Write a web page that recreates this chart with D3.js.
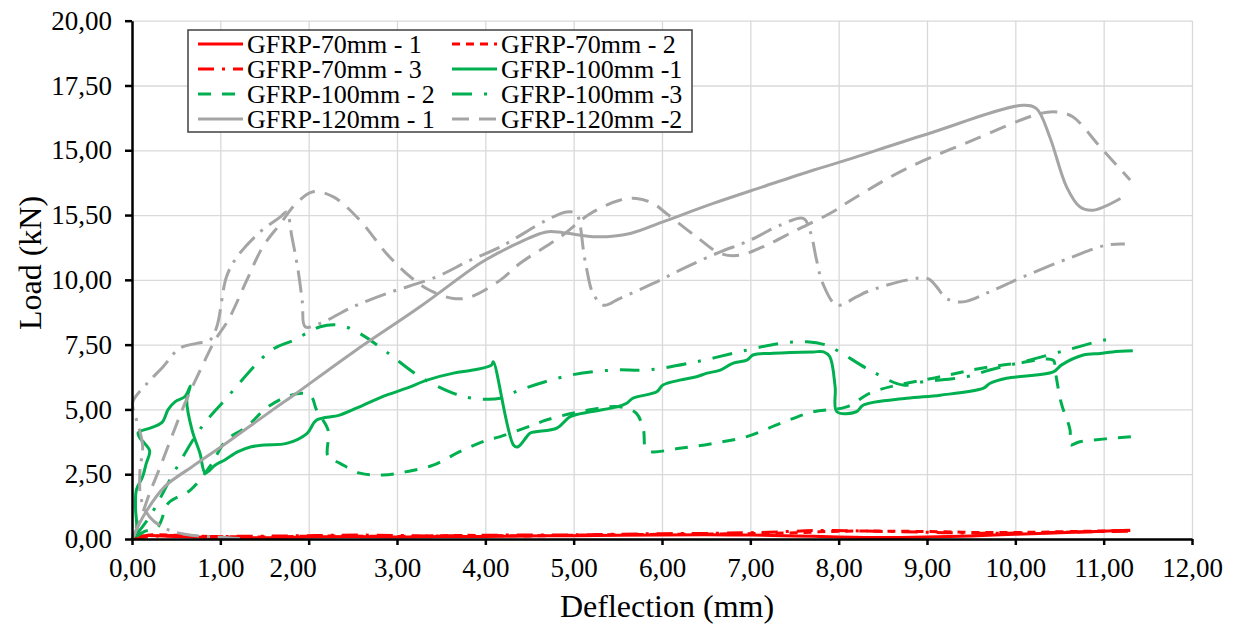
<!DOCTYPE html>
<html>
<head>
<meta charset="utf-8">
<script src="https://cdn.jsdelivr.net/npm/d3@7"></script>
<style>
    body { margin: 0; background: #fff; }
    svg text { font-family: "Liberation Serif", "Times New Roman", serif; fill: #000; }
    .grid line { stroke: #d9d9d9; stroke-width: 1.3; }
    .grid path { display: none; }
    .axis path, .axis line { stroke: #000; stroke-width: 2.5; }
</style>
</head>
<body>
<svg id="chart" width="1236" height="629"></svg>
<script>
// Axis ticks
const xTicks = [0, 1, 2, 3, 4, 5, 6, 7, 8, 9, 10, 11, 12];
const xTickLabels = ['0,00', '1,00', '2,00', '3,00', '4,00', '5,00', '6,00', '7,00', '8,00', '9,00', '10,00', '11,00', '12,00'];
const yTicks = [0, 2.5, 5, 7.5, 10, 12.5, 15, 17.5, 20];
const yTickLabels = ['0,00', '2,50', '5,00', '7,50', '10,00', '15,50', '15,00', '17,50', '20,00'];

// Series: [deflection mm, load kN]
const gfrp70_1 = [[0,0],[0.1,0.12],[0.5,0.1],[1,0.06],[1.5,0.05],[2,0.08],[2.5,0.1],[3,0.08],[3.5,0.1],[4,0.1],[4.5,0.12],[5,0.13],[5.5,0.14],[6,0.15],[6.5,0.16],[7,0.15],[7.5,0.12],[8,0.08],[8.5,0.06],[9,0.08],[9.5,0.12],[10,0.18],[10.5,0.24],[11,0.3],[11.3,0.34]];
const gfrp70_2 = [[0,0],[0.2,0.15],[0.8,0.1],[1.5,0.08],[2.2,0.12],[3,0.1],[3.8,0.14],[4.5,0.12],[5.2,0.16],[6,0.18],[6.8,0.2],[7.5,0.24],[8,0.3],[8.6,0.3],[9.2,0.28],[9.6,0.25],[10.2,0.26],[10.8,0.3],[11.3,0.33]];
const gfrp70_3 = [[0,0],[0.3,0.12],[1,0.1],[1.8,0.12],[2.6,0.15],[3.4,0.12],[4.2,0.15],[5,0.16],[5.8,0.2],[6.6,0.22],[7.2,0.26],[7.8,0.33],[8.4,0.3],[9,0.26],[9.6,0.22],[10.2,0.24],[10.8,0.28],[11.3,0.3]];
const gfrp100_1 = [[0,0],[0.05,0.3],[0.04,1.2],[0.05,1.9],[0.12,2.4],[0.16,2.9],[0.2,3.4],[0.14,3.7],[0.09,3.9],[0.07,4.1],[0.22,4.3],[0.34,4.5],[0.41,5.0],[0.49,5.3],[0.6,5.5],[0.66,5.9],[0.62,5.36],[0.68,4.2],[0.77,3.3],[0.83,2.55],[0.94,2.85],[1.05,3.05],[1.2,3.37],[1.35,3.56],[1.5,3.63],[1.75,3.69],[1.98,4.07],[2.09,4.59],[2.35,4.78],[2.62,5.17],[2.88,5.55],[3.11,5.82],[3.34,6.13],[3.64,6.4],[3.86,6.52],[4.07,6.71],[4.09,6.84],[4.32,3.62],[4.37,3.56],[4.47,3.95],[4.51,4.09],[4.81,4.28],[4.96,4.72],[5.19,4.91],[5.49,5.1],[5.6,5.24],[5.67,5.43],[5.94,5.68],[6.01,5.94],[6.2,6.13],[6.39,6.26],[6.5,6.39],[6.66,6.52],[6.8,6.78],[6.96,6.9],[7.03,7.1],[7.26,7.17],[7.71,7.22],[7.83,7.22],[7.9,7.03],[7.96,5.87],[7.98,4.91],[8.2,4.91],[8.28,5.17],[8.77,5.43],[9.15,5.55],[9.64,5.82],[9.71,6.0],[9.9,6.2],[10.43,6.45],[10.52,6.71],[10.77,7.1],[10.96,7.16],[11.1,7.22],[11.33,7.26]];
const gfrp100_2 = [[0.05,0.1],[0.15,0.3],[0.28,0.42],[0.33,0.7],[0.41,1.38],[0.66,1.89],[0.88,2.79],[1.07,3.82],[1.3,4.33],[1.52,5.05],[1.75,5.49],[1.94,5.62],[2.03,5.5],[2.09,4.97],[2.22,4.2],[2.22,3.17],[2.35,2.93],[2.58,2.54],[2.84,2.47],[3.11,2.6],[3.41,2.85],[3.71,3.37],[4.02,3.82],[4.17,3.95],[4.54,4.4],[4.69,4.59],[5.07,4.91],[5.52,5.1],[5.71,4.85],[5.79,4.2],[5.83,3.43],[6.2,3.5],[6.58,3.69],[6.96,3.95],[7.34,4.46],[7.71,4.91],[8.09,5.1],[8.39,5.68],[9.15,6.26],[9.6,6.58],[10.02,6.78],[10.43,6.9],[10.45,6.52],[10.52,5.24],[10.62,4.2],[10.62,3.63],[10.73,3.75],[11.33,3.95]];
const gfrp100_3 = [[0.03,0.1],[0.2,0.86],[0.49,2.66],[0.79,4.33],[1.05,5.36],[1.58,7.29],[1.83,7.67],[2.13,8.19],[2.35,8.25],[2.58,7.93],[2.88,7.22],[3.26,6.26],[3.64,5.62],[3.86,5.43],[4.17,5.43],[4.39,5.75],[4.96,6.32],[5.45,6.52],[5.83,6.52],[6.39,6.84],[6.96,7.29],[7.34,7.55],[7.64,7.61],[7.86,7.48],[8.01,7.22],[8.35,6.52],[8.73,5.94],[8.96,6.07],[9.45,6.26],[9.71,6.52],[10.09,6.84],[10.58,7.29],[11.0,7.67],[11.15,7.74]];
const gfrp120_1 = [[0,0],[0.15,1.0],[0.37,2.02],[0.68,2.79],[1.05,3.66],[1.62,5.05],[1.83,5.55],[2.5,7.2],[3.26,8.96],[3.94,10.64],[4.17,11.08],[4.32,11.34],[4.69,11.85],[4.88,11.82],[5.26,11.66],[5.64,11.79],[6.01,12.24],[6.58,12.95],[7.14,13.59],[7.71,14.23],[8.02,14.55],[8.96,15.58],[10.09,16.74],[10.24,16.61],[10.39,15.51],[10.58,13.59],[10.73,12.82],[10.88,12.69],[11.19,13.14]];
const gfrp120_2 = [[0.02,0.1],[0.1,0.8],[0.2,1.77],[0.32,2.79],[0.45,3.95],[0.6,5.24],[0.79,6.64],[0.94,7.67],[1.09,8.45],[1.3,9.99],[1.48,11.27],[1.68,12.17],[1.86,12.95],[2.05,13.4],[2.28,13.2],[2.58,12.3],[2.88,11.02],[3.15,10.12],[3.37,9.6],[3.64,9.28],[3.83,9.34],[4.17,9.99],[4.39,10.63],[4.85,11.66],[5.19,12.56],[5.52,13.07],[5.71,13.14],[5.9,12.95],[6.05,12.56],[6.39,11.66],[6.66,11.02],[6.88,10.95],[7.14,11.27],[7.52,11.92],[7.9,12.56],[8.2,13.2],[8.77,14.3],[9.52,15.39],[10.28,16.42],[10.47,16.48],[10.65,16.29],[10.96,15.13],[11.3,13.85]];
const gfrp120_3 = [[1.22,0.02],[0.95,0.07],[0.6,0.18],[0.38,0.4],[0.2,0.85],[0.1,1.6],[0.09,2.6],[0.12,3.6],[0.06,4.5],[0.02,4.9],[0.01,5.3],[0.17,6.0],[0.35,6.64],[0.54,7.36],[0.73,7.55],[0.88,7.67],[0.96,8.19],[1.07,10.12],[1.19,10.89],[1.45,11.85],[1.68,12.43],[1.75,12.62],[1.81,11.66],[1.88,10.37],[1.93,9.09],[1.96,8.19],[2.13,8.32],[2.5,8.96],[2.88,9.47],[3.45,10.12],[3.83,10.76],[4.17,11.27],[4.69,12.3],[4.92,12.62],[5.03,12.56],[5.07,12.17],[5.11,11.15],[5.15,10.37],[5.22,9.47],[5.34,9.02],[5.52,9.28],[5.9,9.86],[6.28,10.5],[6.66,11.08],[6.96,11.47],[7.34,12.11],[7.6,12.37],[7.68,11.85],[7.75,10.76],[7.82,9.86],[7.98,9.02],[8.2,9.34],[8.32,9.54],[8.77,9.99],[9.01,10.05],[9.11,9.73],[9.22,9.28],[9.41,9.15],[9.71,9.54],[10.09,10.12],[10.65,10.89],[11.03,11.34],[11.24,11.38]];

const RED = '#ff0000', GREEN = '#00b050', GRAY = '#a5a5a5';

// name (null = not in legend), data, colour, dash
const series = [
    { name: 'GFRP-70mm - 1', data: gfrp70_1, color: RED, dash: null },
    { name: 'GFRP-70mm - 2', data: gfrp70_2, color: RED, dash: '8,6' },
    { name: 'GFRP-70mm - 3', data: gfrp70_3, color: RED, dash: '16,8,3,8' },
    { name: 'GFRP-100mm -1', data: gfrp100_1, color: GREEN, dash: null },
    { name: 'GFRP-100mm - 2', data: gfrp100_2, color: GREEN, dash: '13,11' },
    { name: 'GFRP-100mm -3', data: gfrp100_3, color: GREEN, dash: '20,12,3,12' },
    { name: 'GFRP-120mm - 1', data: gfrp120_1, color: GRAY, dash: null },
    { name: 'GFRP-120mm -2', data: gfrp120_2, color: GRAY, dash: '17,10' },
    { name: null, data: gfrp120_3, color: GRAY, dash: '22,8,3,8' }
];

const svg = d3.select('#chart');
const x = d3.scaleLinear().domain([0, 12]).range([132, 1192]);
const y = d3.scaleLinear().domain([0, 20]).range([539, 20.7]);

// Grid
svg.append('g')
    .attr('class', 'grid')
    .attr('transform', `translate(0,${y(0)})`)
    .call(d3.axisBottom(x).tickValues(xTicks).tickSize(-(y(0) - y(20))).tickFormat(''));
svg.append('g')
    .attr('class', 'grid')
    .attr('transform', `translate(${x(0)},0)`)
    .call(d3.axisLeft(y).tickValues(yTicks).tickSize(-(x(12) - x(0))).tickFormat(''));

// Lines
const line = d3.line()
    .x(d => x(d[0]))
    .y(d => y(d[1]))
    .curve(d3.curveCatmullRom.alpha(0.5));

svg.append('g').selectAll('path')
    .data(series)
    .join('path')
    .attr('d', s => line(s.data))
    .attr('fill', 'none')
    .attr('stroke', s => s.color)
    .attr('stroke-width', 3)
    .attr('stroke-dasharray', s => s.dash)
    .attr('stroke-linejoin', 'round');

// Axes
const xAxis = svg.append('g')
    .attr('class', 'axis')
    .attr('transform', `translate(0,${y(0)})`)
    .call(d3.axisBottom(x).tickValues(xTicks).tickSize(6).tickSizeOuter(0).tickPadding(13)
        .tickFormat((d, i) => xTickLabels[i]));
xAxis.selectAll('text').attr('font-size', 27)
    .attr('dx', d => d === 2 ? -16 : 0);

const yAxis = svg.append('g')
    .attr('class', 'axis')
    .attr('transform', `translate(${x(0)},0)`)
    .call(d3.axisLeft(y).tickValues(yTicks).tickSize(7).tickSizeOuter(0).tickPadding(13)
        .tickFormat((d, i) => yTickLabels[i]));
yAxis.selectAll('text').attr('font-size', 27);
svg.selectAll('.axis text').attr('font-family', '"Liberation Serif", "Times New Roman", serif');

// Axis titles
svg.append('text')
    .attr('x', 667).attr('y', 617)
    .attr('text-anchor', 'middle')
    .attr('font-size', 32)
    .text('Deflection (mm)');
svg.append('text')
    .attr('transform', 'translate(41,263) rotate(-90)')
    .attr('text-anchor', 'middle')
    .attr('font-size', 32)
    .text('Load (kN)');

// Legend
const legend = svg.append('g');
legend.append('rect')
    .attr('x', 188).attr('y', 30)
    .attr('width', 504).attr('height', 102)
    .attr('fill', '#fff')
    .attr('stroke', '#404040')
    .attr('stroke-width', 1.5);

const items = legend.selectAll('g.item')
    .data(series.filter(s => s.name))
    .join('g')
    .attr('class', 'item')
    .attr('transform', (s, i) => `translate(${i % 2 ? 452 : 198},${44 + Math.floor(i / 2) * 25})`);
items.append('line')
    .attr('x1', 0).attr('x2', 45)
    .attr('stroke', s => s.color)
    .attr('stroke-width', 3)
    .attr('stroke-dasharray', s => s.dash);
items.append('text')
    .attr('x', 49).attr('y', 8.5)
    .attr('font-size', 26)
    .text(s => s.name);
</script>
</body>
</html>
